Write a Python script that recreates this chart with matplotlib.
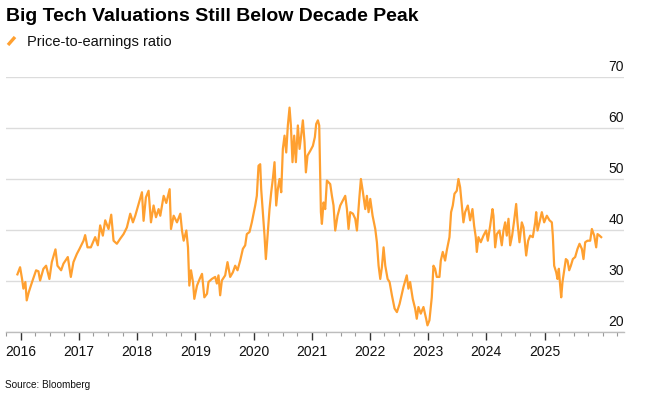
import matplotlib
matplotlib.use("Agg")
import matplotlib.pyplot as plt
from matplotlib.lines import Line2D
from matplotlib.ticker import MultipleLocator, FixedLocator
import matplotlib.transforms as mtransforms

plt.rcParams['font.family'] = ['Liberation Sans', 'DejaVu Sans']

# dates as decimal years
years = [
    2015.943, 2015.989, 2016.023, 2016.046, 2016.080, 2016.103, 2016.138, 2016.195, 2016.264, 2016.304,
    2016.333, 2016.390, 2016.436, 2016.493, 2016.534, 2016.597, 2016.631, 2016.694, 2016.734, 2016.809,
    2016.861, 2016.906, 2016.964, 2017.010, 2017.079, 2017.107, 2017.147, 2017.205, 2017.279, 2017.325,
    2017.365, 2017.411, 2017.452, 2017.509, 2017.555, 2017.595, 2017.652, 2017.710, 2017.767, 2017.824,
    2017.882, 2017.928, 2017.968, 2018.025, 2018.083, 2018.111, 2018.151, 2018.197, 2018.238, 2018.283,
    2018.324, 2018.369, 2018.398, 2018.456, 2018.501, 2018.559, 2018.582, 2018.628, 2018.685, 2018.742,
    2018.771, 2018.800, 2018.846, 2018.874, 2018.897, 2018.926, 2018.960, 2018.983,
    2019.029, 2019.075, 2019.115, 2019.155, 2019.201, 2019.226, 2019.284, 2019.341, 2019.370, 2019.398,
    2019.427, 2019.456, 2019.513, 2019.553, 2019.599, 2019.645, 2019.685, 2019.725, 2019.771, 2019.817,
    2019.857, 2019.885, 2019.931, 2019.971, 2020.000, 2020.029, 2020.057, 2020.086, 2020.115, 2020.132,
    2020.160, 2020.189, 2020.212, 2020.241, 2020.275, 2020.304, 2020.332, 2020.361, 2020.390, 2020.418,
    2020.447, 2020.476, 2020.504, 2020.533, 2020.562, 2020.590, 2020.619, 2020.642, 2020.670, 2020.699,
    2020.728, 2020.762, 2020.791, 2020.819, 2020.848, 2020.877, 2020.900, 2020.928, 2020.974, 2021.020,
    2021.054, 2021.077, 2021.106, 2021.129, 2021.158, 2021.175, 2021.203, 2021.232, 2021.261, 2021.318,
    2021.347, 2021.375, 2021.404, 2021.444, 2021.490, 2021.536, 2021.576, 2021.605, 2021.633, 2021.662,
    2021.708, 2021.748, 2021.777, 2021.817, 2021.845, 2021.880, 2021.920, 2021.948, 2021.977, 2022.006,
    2022.046, 2022.092, 2022.120, 2022.149, 2022.178, 2022.206, 2022.235, 2022.264, 2022.304, 2022.338,
    2022.378, 2022.424, 2022.464, 2022.510,
    2022.576, 2022.633, 2022.662, 2022.691, 2022.736, 2022.777, 2022.805, 2022.834, 2022.874, 2022.920,
    2022.966, 2022.989, 2023.023, 2023.063, 2023.092, 2023.120, 2023.149, 2023.195, 2023.218, 2023.252,
    2023.292, 2023.321, 2023.367, 2023.395, 2023.424, 2023.453, 2023.493, 2023.521, 2023.550, 2023.579,
    2023.607, 2023.636, 2023.682, 2023.722, 2023.762, 2023.791, 2023.819, 2023.837, 2023.865, 2023.905,
    2023.951, 2023.997, 2024.026, 2024.066, 2024.106, 2024.123, 2024.152, 2024.181, 2024.226, 2024.266,
    2024.295, 2024.324, 2024.352, 2024.381, 2024.410, 2024.444, 2024.479, 2024.513, 2024.536, 2024.570,
    2024.610, 2024.639, 2024.668, 2024.685, 2024.719, 2024.754, 2024.799, 2024.840, 2024.857, 2024.880,
    2024.914, 2024.954, 2024.994, 2025.040, 2025.086, 2025.126, 2025.143, 2025.166, 2025.201, 2025.223,
    2025.246, 2025.269, 2025.287, 2025.309, 2025.338, 2025.367, 2025.395, 2025.424, 2025.453, 2025.487,
    2025.527, 2025.567, 2025.602, 2025.642, 2025.670, 2025.699, 2025.739, 2025.785, 2025.814, 2025.854,
    2025.888, 2025.911, 2025.946, 2025.974,
]
pe_ratio = [
    31.3, 32.7, 30.4, 28.5, 29.8, 26.2, 27.8, 29.8, 32.1, 31.9,
    30.1, 32.4, 33.0, 30.4, 33.7, 36.2, 33.0, 32.1, 33.4, 34.7,
    30.8, 33.7, 35.3, 36.3, 37.9, 39.0, 36.6, 36.6, 38.6, 37.0,
    40.9, 38.9, 41.9, 40.2, 43.0, 37.9, 37.3, 38.3, 39.2, 40.5,
    43.2, 41.5, 42.8, 45.1, 47.4, 41.8, 46.4, 47.7, 41.5, 44.8,
    42.5, 44.1, 42.8, 46.7, 45.3, 48.0, 40.2, 42.8, 41.5, 43.2,
    39.9, 37.9, 39.9, 36.6, 29.1, 32.1, 29.8, 26.5,
    29.1, 30.4, 31.4, 26.8, 27.5, 29.8, 30.4, 30.8, 29.5, 31.1,
    27.2, 30.1, 31.1, 33.7, 30.8, 31.7, 33.0, 32.1, 34.0, 36.3,
    37.0, 39.2, 39.6, 41.5, 43.2, 44.8, 46.7, 52.6, 52.9, 48.0,
    43.5, 38.9, 34.3, 38.9, 44.1, 47.4, 50.0, 53.3, 44.8, 48.0,
    50.0, 47.4, 55.9, 58.5, 55.2, 60.5, 64.0, 60.5, 53.3, 58.5,
    53.3, 60.5, 55.9, 58.5, 61.5, 57.2, 51.3, 54.6, 55.5, 56.5,
    58.2, 60.8, 61.5, 60.5, 43.5, 41.2, 45.4, 44.1, 49.7, 49.0,
    46.7, 44.8, 39.9, 42.8, 44.8, 45.8, 46.7, 44.1, 40.2, 43.5,
    43.2, 42.2, 39.9, 46.1, 50.0, 47.4, 44.1, 46.7, 43.5, 46.1,
    42.8, 40.2, 37.6, 33.0, 30.4, 32.7, 36.6, 33.0, 30.4, 29.8,
    27.2, 24.6, 23.9, 25.5,
    28.8, 31.1, 28.5, 29.8, 26.5, 24.6, 22.6, 24.9, 23.6, 24.9,
    22.6, 21.3, 22.3, 26.8, 33.0, 32.4, 30.8, 30.8, 34.0, 35.7,
    34.0, 36.0, 38.6, 43.5, 44.8, 47.1, 47.7, 50.0, 48.4, 44.8,
    41.5, 43.5, 44.8, 41.9, 44.1, 40.8, 38.6, 35.7, 38.6, 37.6,
    38.9, 39.9, 37.9, 40.8, 44.1, 42.8, 36.6, 39.2, 39.9, 37.0,
    39.9, 41.5, 38.9, 42.2, 37.0, 38.9, 41.9, 45.1, 41.5, 37.6,
    41.5, 40.5, 37.0, 35.0, 37.9, 38.9, 38.6, 41.5, 43.5, 39.9,
    41.5, 43.5, 41.5, 42.8, 41.9, 41.5, 38.9, 33.0, 31.7, 30.4,
    32.4, 29.1, 26.8, 29.8, 32.1, 34.3, 34.0, 32.1, 33.0, 34.3,
    34.7, 36.3, 37.3, 36.3, 34.3, 37.6, 37.9, 37.9, 40.2, 38.9,
    36.6, 39.2, 38.9, 38.6,
]

year_ticks = list(range(2016, 2026))
value_ticks = [20, 30, 40, 50, 60, 70]

W, H = 646, 402
fig = plt.figure(figsize=(W / 100, H / 100), dpi=100)
ax = fig.add_axes([6 / W, (H - 333) / H, (624 - 6) / W, (333 - 78) / H])

ax.plot(years, pe_ratio, color='#FFA030', lw=1.6, solid_joinstyle='round', zorder=3)

ax.set_xlim(2015.747, 2026.366)
ax.set_ylim(20, 70)

for s in ['top', 'right', 'left']:
    ax.spines[s].set_visible(False)
ax.spines['bottom'].set_color('#bdbdbd')
ax.spines['bottom'].set_linewidth(1.0)

ax.yaxis.set_major_locator(FixedLocator(value_ticks))
ax.grid(axis='y', color='#dcdcdc', lw=1.0, zorder=1)
ax.tick_params(axis='y', left=False, labelleft=False)

ax.xaxis.set_major_locator(FixedLocator(year_ticks))
ax.xaxis.set_minor_locator(MultipleLocator(0.25))
ax.set_xticklabels([str(y) for y in year_ticks])
ax.tick_params(axis='x', which='major', length=6, width=1, color='#333333',
               labelsize=10, labelcolor='#111111', pad=3)
ax.tick_params(axis='x', which='minor', length=3, width=0.8, color='#999999')

# value labels sit on the right, just above each gridline
trans = mtransforms.blended_transform_factory(ax.transAxes, ax.transData)
offset = mtransforms.offset_copy(trans, fig=fig, x=0, y=3, units='points')
for v in value_ticks:
    ax.text(1.0, v, str(v), transform=offset, ha='right', va='bottom',
            fontsize=10, color='#111111')

fig.text(6 / W, 1 - 21 / H, 'Big Tech Valuations Still Below Decade Peak',
         fontsize=14, fontweight='bold', color='black', va='baseline')
fig.add_artist(Line2D([8 / W, 15 / W], [1 - 46 / H, 1 - 38 / H],
                      color='#FFA030', lw=2.4, solid_capstyle='butt'))
fig.text(27 / W, 1 - 42 / H, 'Price-to-earnings ratio', fontsize=10.5,
         color='#111111', va='center')
fig.text(5 / W, 1 - 385 / H, 'Source: Bloomberg', fontsize=7.2,
         color='#111111', va='center')

fig.savefig('out.png', dpi=100)
